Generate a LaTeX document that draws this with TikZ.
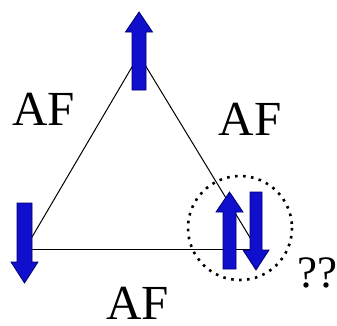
\documentclass[tikz,border=0pt]{standalone}
\usepackage{fontspec}
\setmainfont{Liberation Serif}
\definecolor{spinfill}{RGB}{15,15,205}
\definecolor{spinedge}{RGB}{0,0,110}
\begin{document}
\begin{tikzpicture}[x=1pt,y=-1pt,
  edge/.style={draw=black,line width=1pt},
  spin/.style={fill=spinfill,draw=spinedge,line width=0.8pt,line join=miter},
  lab/.style={anchor=base,inner sep=0pt,font=\fontsize{49}{52}\selectfont},
  qlab/.style={anchor=base,inner sep=0pt,font=\fontsize{45}{50}\selectfont},
  ring/.style={draw=black,line width=2.6pt,dash pattern=on 2.6pt off 5.4pt}]
\useasboundingbox (0,0) rectangle (337,325);
% vertices
\coordinate (top) at (139,55);
\coordinate (left) at (25,249);
\coordinate (right) at (257,249);
% triangle edges
\draw[edge] (top) -- (left);
\draw[edge] (top) -- (right);
\draw[edge] (left) -- (right);
% spins
\draw[spin] (132,90) -- (132,32) -- (125.5,32) -- (139,12) -- (152.5,32) -- (146,32) -- (146,90) -- cycle;
\draw[spin] (17,203) -- (32,203) -- (32,262) -- (38,262) -- (24.5,283) -- (11,262) -- (17,262) -- cycle;
\draw[spin] (223,269) -- (223,212) -- (216,212) -- (229.5,192) -- (243,212) -- (236,212) -- (236,269) -- cycle;
\draw[spin] (250,192) -- (262,192) -- (262,250) -- (269,250) -- (256,270) -- (243,250) -- (250,250) -- cycle;
% frustration circle
\draw[ring] (240,228) circle[radius=52];
% labels
\node[lab] (afl) at (43.5,125) {AF};
\node[lab] (afr) at (250,135) {AF};
\node[lab] (afb) at (137.5,319) {AF};
\node[qlab] (qq) at (317.5,287) {??};
\end{tikzpicture}
\end{document}
